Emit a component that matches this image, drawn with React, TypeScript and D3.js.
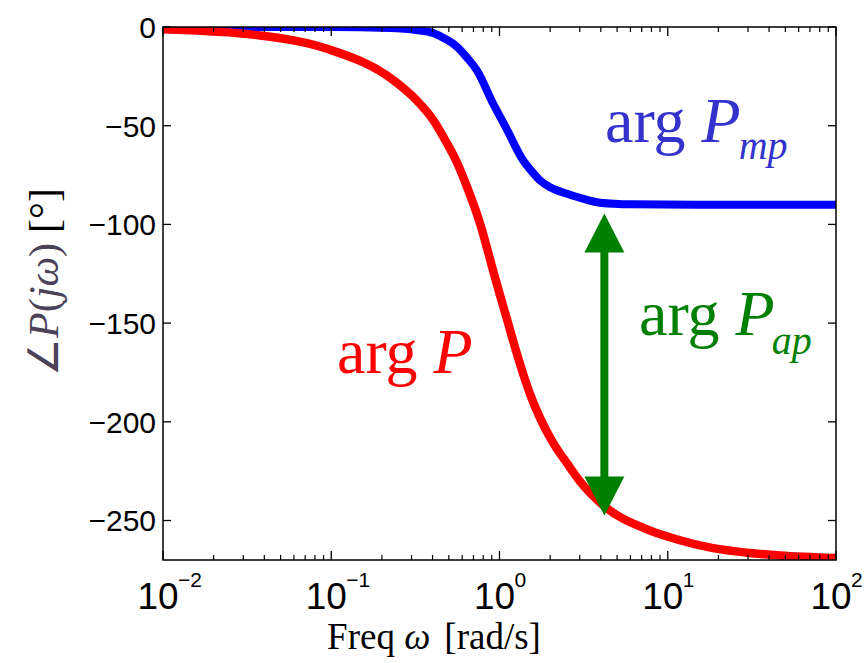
import React from "react";
import * as d3 from "d3";

const xTickExps = [-2, -1, 0, 1, 2];
const yTicks = [0, -50, -100, -150, -200, -250];

const redOmega = [0.01, 0.0377, 0.0943, 0.233, 0.323, 0.403, 0.488, 0.558, 0.641, 0.766, 0.914, 1.0, 1.108, 1.2, 1.38, 1.52, 1.74, 2.08, 2.52, 3.0, 4.24, 7.53, 11.8, 18.6, 29.6, 46.5, 100];
const redPhase = [-1.2, -4.3, -11, -26.8, -37.3, -47, -59, -68.5, -81, -99.5, -123, -135, -148, -158.5, -175.5, -186, -198, -210.5, -221, -230, -243, -254.5, -260, -264, -266.3, -267.7, -269];

const blueOmega = [0.01, 0.0984, 0.223, 0.32, 0.403, 0.488, 0.558, 0.641, 0.734, 0.914, 1.108, 1.38, 1.55, 1.74, 2.0, 2.52, 3.0, 3.96, 6.0, 15.6, 100];
const bluePhase = [0, 0, -0.5, -1.5, -3, -6.5, -10, -15.5, -22, -38.6, -52, -67.5, -73, -77.7, -81.2, -84.5, -86.5, -89, -89.8, -90, -90];

const arrowOmega = 4.2;
const arrowTop = -94.5;
const arrowBottom = -247.5;

const W = 866, H = 663;
const L = 163, R = 836, T = 27, B = 560;

export default function App() {
  const x = d3.scaleLog().domain([0.01, 100]).range([L, R]);
  const y = d3.scaleLinear().domain([-270, 0]).range([B, T]);
  const line = d3
    .line<[number, number]>()
    .x((d) => x(d[0]))
    .y((d) => y(d[1]))
    .curve(d3.curveMonotoneX);
  const redPath = line(redOmega.map((w, i) => [w, redPhase[i]]) as [number, number][]) || "";
  const bluePath = line(blueOmega.map((w, i) => [w, bluePhase[i]]) as [number, number][]) || "";

  const minor: number[] = [];
  for (let e = -2; e < 2; e++) for (let k = 2; k <= 9; k++) minor.push(k * Math.pow(10, e));

  const ax = x(arrowOmega);
  const yt = y(arrowTop);
  const yb = y(arrowBottom);
  const headL = 39, headW = 20;

  const serif = "'Liberation Serif', 'Times New Roman', serif";
  const sans = "'Liberation Sans', Arial, sans-serif";

  return (
    <svg width={W} height={H} style={{ position: "absolute", left: 0, top: 0, background: "#fff" }}>
      <defs>
        <clipPath id="plotclip">
          <rect x={L} y={T} width={R - L} height={B - T} />
        </clipPath>
      </defs>
      <rect x={0} y={0} width={W} height={H} fill="#fff" />
      <g clipPath="url(#plotclip)">
        <path d={bluePath} fill="none" stroke="#0000ff" strokeWidth={8} strokeLinejoin="round" />
        <path d={redPath} fill="none" stroke="#ff0000" strokeWidth={8.5} strokeLinejoin="round" />
      </g>
      {/* frame */}
      <rect x={L} y={T} width={R - L} height={B - T} fill="none" stroke="#000" strokeWidth={1.5} />
      {/* x ticks */}
      {xTickExps.map((e) => {
        const px = x(Math.pow(10, e));
        return (
          <g key={"xt" + e}>
            <line x1={px} x2={px} y1={B} y2={B - 9} stroke="#000" strokeWidth={1.3} />
            <line x1={px} x2={px} y1={T} y2={T + 9} stroke="#000" strokeWidth={1.3} />
            <text x={px - 5} y={609} fontFamily={sans} fontSize={37} textAnchor="middle" fill="#000">
              10
            </text>
            <text x={px + 15} y={587} fontFamily={sans} fontSize={21} textAnchor="start" fill="#000">
              {e < 0 ? "\u2212" + Math.abs(e) : String(e)}
            </text>
          </g>
        );
      })}
      {minor.map((v, i) => {
        const px = x(v);
        return (
          <g key={"mt" + i}>
            <line x1={px} x2={px} y1={B} y2={B - 5} stroke="#000" strokeWidth={1.2} />
            <line x1={px} x2={px} y1={T} y2={T + 5} stroke="#000" strokeWidth={1.2} />
          </g>
        );
      })}
      {/* y ticks */}
      {yTicks.map((v) => {
        const py = y(v);
        return (
          <g key={"yt" + v}>
            <line x1={L} x2={L + 8} y1={py} y2={py} stroke="#000" strokeWidth={1.3} />
            <line x1={R} x2={R - 8} y1={py} y2={py} stroke="#000" strokeWidth={1.3} />
            <text x={156} y={py} dy="0.36em" fontFamily={sans} fontSize={30} textAnchor="end" fill="#000">
              {v < 0 ? "\u2212" + Math.abs(v) : String(v)}
            </text>
          </g>
        );
      })}
      {/* x axis title */}
      <text x={434} y={649} fontFamily={serif} fontSize={37} textAnchor="middle" fill="#000">
        Freq <tspan fontStyle="italic">ω</tspan>
        <tspan dx={14}>[rad/s]</tspan>
      </text>
      {/* y axis title */}
      <text
        transform="translate(58,282) rotate(-90)"
        fontFamily={serif}
        fontSize={42}
        textAnchor="middle"
        fill="#000"
      >
        <tspan fill="#4a4258">∠</tspan>
        <tspan fill="#4a4258" fontStyle="italic">P</tspan>
        <tspan fill="#4a4258">(</tspan>
        <tspan fill="#4a4258" fontStyle="italic">jω</tspan>
        <tspan fill="#4a4258">)</tspan>
        <tspan dx={10}>[°]</tspan>
      </text>
      {/* arrow */}
      <g fill="#008000" stroke="none">
        <line x1={ax} x2={ax} y1={yt + headL - 2} y2={yb - headL + 2} stroke="#008000" strokeWidth={8} />
        <path d={`M${ax},${yt} L${ax - headW},${yt + headL} L${ax + headW},${yt + headL} Z`} />
        <path d={`M${ax},${yb} L${ax - headW},${yb - headL} L${ax + headW},${yb - headL} Z`} />
      </g>
      {/* labels */}
      <text x={605} y={142} fontFamily={serif} fontSize={64} fill="#3333cc">
        arg <tspan fontStyle="italic">P</tspan>
        <tspan fontStyle="italic" fontSize={40} dx={-2} dy={17}>mp</tspan>
      </text>
      <text x={639} y={335} fontFamily={serif} fontSize={64} fill="#008000">
        arg <tspan fontStyle="italic">P</tspan>
        <tspan fontStyle="italic" fontSize={40} dx={-3} dy={19}>ap</tspan>
      </text>
      <text x={337} y={373} fontFamily={serif} fontSize={64} fill="#ff0000">
        arg <tspan fontStyle="italic">P</tspan>
      </text>
    </svg>
  );
}
